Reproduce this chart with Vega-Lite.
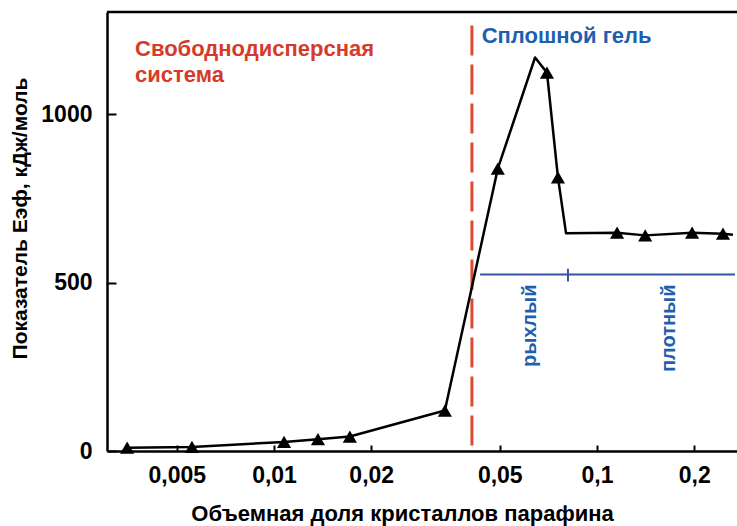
{
  "$schema": "https://vega.github.io/schema/vega-lite/v6.json",
  "width": 630,
  "height": 439,
  "autosize": "none",
  "padding": {"left": 107, "top": 12, "right": 0, "bottom": 75},
  "background": "white",
  "config": {"view": {"stroke": null}, "font": "Liberation Sans"},
  "datasets": {
    "curve": [
      {"x": 0.00351, "y": 10, "marker": true},
      {"x": 0.00557, "y": 12, "marker": true},
      {"x": 0.01074, "y": 27, "marker": true},
      {"x": 0.01368, "y": 35, "marker": true},
      {"x": 0.01717, "y": 43, "marker": true},
      {"x": 0.0338, "y": 120, "marker": true},
      {"x": 0.0493, "y": 838, "marker": true},
      {"x": 0.0643, "y": 1168, "marker": false},
      {"x": 0.0700, "y": 1123, "marker": true},
      {"x": 0.0757, "y": 812, "marker": true},
      {"x": 0.0802, "y": 646, "marker": false},
      {"x": 0.1154, "y": 648, "marker": true},
      {"x": 0.141, "y": 640, "marker": true},
      {"x": 0.197, "y": 648, "marker": true},
      {"x": 0.2455, "y": 645, "marker": true},
      {"x": 0.2636, "y": 642, "marker": false}
    ],
    "boundary": [{"x": 0.0410, "y": 16, "y2": 1277}],
    "gelbar": [{"x": 0.04345, "x2": 0.2674, "y": 523.7}],
    "geltick": [{"x": 0.0813, "y": 503, "y2": 541}],
    "frame": [{"x": 0.00304, "x2": 0.2713, "y": 1303}],
    "redtext": [{"x": 0.003713, "y": 1173.6, "text": ["Свободнодисперсная", "система"]}],
    "bluetitle": [{"x": 0.04394, "y": 1210, "text": "Сплошной гель"}],
    "bluevert": [
      {"x": 0.06202, "y": 494, "text": "рыхлый"},
      {"x": 0.1665, "y": 494, "text": "плотный"}
    ]
  },
  "encoding": {
    "x": {
      "field": "x",
      "type": "quantitative",
      "scale": {"type": "log", "domain": [0.00304, 0.2713], "nice": false},
      "axis": {
        "values": [0.005, 0.01, 0.02, 0.05, 0.1, 0.2],
        "labelExpr": "replace(toString(datum.value), '.', ',')",
        "grid": false,
        "tickSize": -6,
        "tickWidth": 2,
        "tickColor": "black",
        "domainColor": "black",
        "domainWidth": 2.5,
        "labelFont": "Liberation Sans",
        "labelFontSize": 23,
        "labelFontWeight": "bold",
        "labelColor": "black",
        "labelPadding": 19,
        "labelFlush": false,
        "labelOverlap": false,
        "title": "Объемная доля кристаллов парафина",
        "titleFont": "Liberation Sans",
        "titleFontSize": 22,
        "titleFontWeight": "bold",
        "titleColor": "black",
        "titlePadding": 16,
        "titleX": 295
      }
    },
    "y": {
      "field": "y",
      "type": "quantitative",
      "scale": {"domain": [0, 1303], "nice": false, "zero": false},
      "axis": {
        "values": [0, 500, 1000],
        "format": "d",
        "grid": false,
        "tickSize": -9,
        "tickWidth": 2,
        "tickColor": "black",
        "domainColor": "black",
        "domainWidth": 2.5,
        "labelFont": "Liberation Sans",
        "labelFontSize": 23,
        "labelFontWeight": "bold",
        "labelColor": "black",
        "labelPadding": 24,
        "labelFlush": false,
        "labelOverlap": false,
        "title": "Показатель Eэф, кДж/моль",
        "titleFont": "Liberation Sans",
        "titleFontSize": 21,
        "titleFontWeight": "bold",
        "titleColor": "black",
        "titlePadding": 10,
        "titleY": 206
      }
    }
  },
  "layer": [
    {
      "data": {"name": "frame"},
      "mark": {"type": "rule", "color": "black", "strokeWidth": 2.5},
      "encoding": {"x2": {"field": "x2"}}
    },
    {
      "data": {"name": "boundary"},
      "mark": {"type": "rule", "color": "#dd4a30", "strokeWidth": 3, "strokeDash": [30, 9]},
      "encoding": {"y2": {"field": "y2"}}
    },
    {
      "data": {"name": "gelbar"},
      "mark": {"type": "rule", "color": "#3553a0", "strokeWidth": 2},
      "encoding": {"x2": {"field": "x2"}}
    },
    {
      "data": {"name": "geltick"},
      "mark": {"type": "rule", "color": "#3553a0", "strokeWidth": 2},
      "encoding": {"y2": {"field": "y2"}}
    },
    {
      "data": {"name": "curve"},
      "mark": {"type": "line", "color": "black", "strokeWidth": 2.5, "strokeJoin": "round"}
    },
    {
      "data": {"name": "curve"},
      "transform": [{"filter": "datum.marker"}],
      "mark": {"type": "point", "shape": "triangle-up", "filled": true, "color": "black", "opacity": 1, "size": 200}
    },
    {
      "data": {"name": "redtext"},
      "mark": {"type": "text", "align": "left", "baseline": "alphabetic", "font": "Liberation Sans", "fontSize": 22, "fontWeight": "bold", "color": "#d63b2a", "lineHeight": 26},
      "encoding": {"text": {"field": "text"}}
    },
    {
      "data": {"name": "bluetitle"},
      "mark": {"type": "text", "align": "left", "baseline": "alphabetic", "font": "Liberation Sans", "fontSize": 22, "fontWeight": "bold", "color": "#1e5fae"},
      "encoding": {"text": {"field": "text"}}
    },
    {
      "data": {"name": "bluevert"},
      "mark": {"type": "text", "angle": 270, "align": "right", "baseline": "middle", "font": "Liberation Sans", "fontSize": 20, "fontWeight": "bold", "color": "#1e5fae"},
      "encoding": {"text": {"field": "text"}}
    }
  ]
}
